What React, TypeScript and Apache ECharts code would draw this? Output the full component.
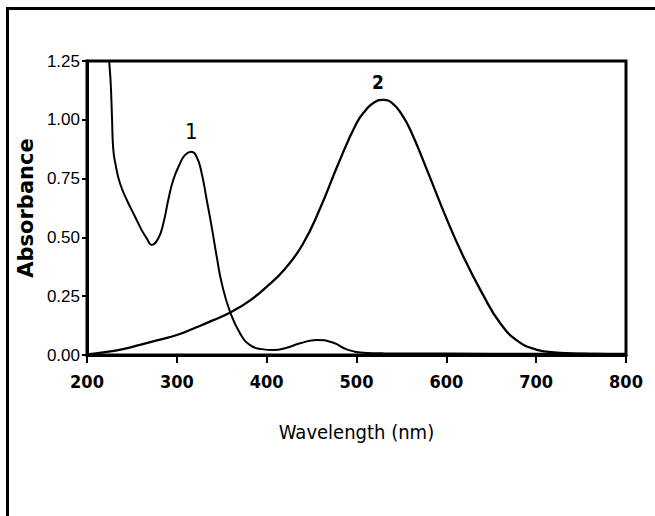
import React, { useEffect, useRef } from "react";
import * as echarts from "echarts";

// Wavelength (nm) / absorbance pairs
const curve1Wavelength = [219, 222, 224.9, 226.4, 227.8, 229.3, 232.3, 236.7, 244.2, 253.5, 260.9, 266.5, 272, 279.4, 285, 290.5, 296, 303.6, 309, 315.8, 322, 327.7, 333.3, 338.8, 344.4, 350, 359.2, 370.4, 381.5, 394.5, 407.5, 422.4, 437.2, 455.8, 474.3, 489.2, 507.7, 530, 600, 700, 800];
const curve1Absorbance = [1.7, 1.42, 1.24, 1.155, 1.013, 0.872, 0.8, 0.73, 0.66, 0.588, 0.531, 0.496, 0.468, 0.496, 0.56, 0.66, 0.744, 0.815, 0.85, 0.864, 0.843, 0.772, 0.659, 0.545, 0.418, 0.305, 0.184, 0.092, 0.042, 0.025, 0.021, 0.031, 0.05, 0.064, 0.052, 0.024, 0.01, 0.007, 0.006, 0.005, 0.005];

const curve2Wavelength = [200, 220, 240, 260, 280, 300, 320, 340, 360, 380, 400, 420, 440, 460, 480, 500, 510, 520, 530, 540, 550, 560, 580, 600, 620, 640, 660, 680, 700, 720, 740, 760, 780, 800];
const curve2Absorbance = [0.003, 0.012, 0.025, 0.044, 0.064, 0.085, 0.115, 0.147, 0.182, 0.228, 0.29, 0.365, 0.47, 0.628, 0.815, 0.985, 1.04, 1.075, 1.085, 1.07, 1.025, 0.957, 0.772, 0.582, 0.41, 0.262, 0.135, 0.058, 0.023, 0.011, 0.007, 0.005, 0.004, 0.004];

const xTicks = { min: 200, max: 800, interval: 100 };
const yTicks = { min: 0, max: 1.25, interval: 0.25 };

const curveLabels = ["1", "2"];
const curveLabelAnchor = [
  [316, 0.952],
  [524, 1.161],
];

const NARROW = "'DejaVu Sans Condensed', 'DejaVu Sans', sans-serif";

export default function App() {
  const ref = useRef<HTMLDivElement>(null);
  useEffect(() => {
    if (!ref.current) return;
    const chart = echarts.init(ref.current, null, { renderer: "svg" });
    const pair = (xs: number[], ys: number[]) => xs.map((x, i) => [x, ys[i]]);
    chart.setOption({
      animation: false,
      backgroundColor: "#ffffff",
      grid: {
        left: 87,
        right: 29,
        top: 61,
        bottom: 161,
        show: true,
        borderColor: "#000",
        borderWidth: 3,
        containLabel: false,
      },
      graphic: [
        {
          type: "rect",
          shape: { x: 7.5, y: 8.5, width: 800, height: 700 },
          style: { fill: "none", stroke: "#000", lineWidth: 3 },
          silent: true,
        },
      ],
      xAxis: {
        type: "value",
        min: xTicks.min,
        max: xTicks.max,
        interval: xTicks.interval,
        name: "Wavelength (nm)",
        nameLocation: "middle",
        nameGap: 67,
        nameTextStyle: { fontFamily: NARROW, fontSize: 20, color: "#000" },
        axisLine: { show: true, lineStyle: { color: "#000", width: 3 } },
        axisTick: { show: true, length: 8, lineStyle: { color: "#000", width: 2 } },
        axisLabel: { fontFamily: NARROW, fontSize: 18, fontWeight: "bold", color: "#000", margin: 17 },
        splitLine: { show: false },
      },
      yAxis: {
        type: "value",
        min: yTicks.min,
        max: yTicks.max,
        interval: yTicks.interval,
        name: "Absorbance",
        nameLocation: "middle",
        nameGap: 40,
        nameRotate: 90,
        nameTextStyle: { fontFamily: "'DejaVu Sans', sans-serif", fontWeight: "bold", fontSize: 21, color: "#000" },
        axisLine: { show: true, lineStyle: { color: "#000", width: 3 } },
        axisTick: { show: true, length: 5, lineStyle: { color: "#000", width: 2 } },
        axisLabel: {
          fontFamily: "'Liberation Sans', sans-serif",
          fontSize: 17,
          color: "#000",
          margin: 7,
          formatter: (v: number) => v.toFixed(2),
        },
        splitLine: { show: false },
      },
      series: [
        {
          type: "line",
          data: pair(curve1Wavelength, curve1Absorbance),
          smooth: 0.5,
          showSymbol: false,
          clip: true,
          lineStyle: { color: "#000", width: 2 },
          markPoint: {
            symbol: "circle",
            symbolSize: 1,
            itemStyle: { color: "rgba(0,0,0,0)" },
            label: { show: true, position: "inside", fontFamily: NARROW, fontSize: 22, color: "#000", formatter: curveLabels[0] },
            data: [{ coord: curveLabelAnchor[0], value: curveLabels[0] }],
          },
        },
        {
          type: "line",
          data: pair(curve2Wavelength, curve2Absorbance),
          smooth: 0.5,
          showSymbol: false,
          clip: true,
          lineStyle: { color: "#000", width: 2.3 },
          markPoint: {
            symbol: "circle",
            symbolSize: 1,
            itemStyle: { color: "rgba(0,0,0,0)" },
            label: { show: true, position: "inside", fontFamily: NARROW, fontSize: 19, fontWeight: "bold", color: "#000", formatter: curveLabels[1] },
            data: [{ coord: curveLabelAnchor[1], value: curveLabels[1] }],
          },
        },
      ],
    });
    return () => chart.dispose();
  }, []);
  return (
    <div
      ref={ref}
      style={{ position: "absolute", left: 0, top: 0, width: 655, height: 516 }}
    />
  );
}
